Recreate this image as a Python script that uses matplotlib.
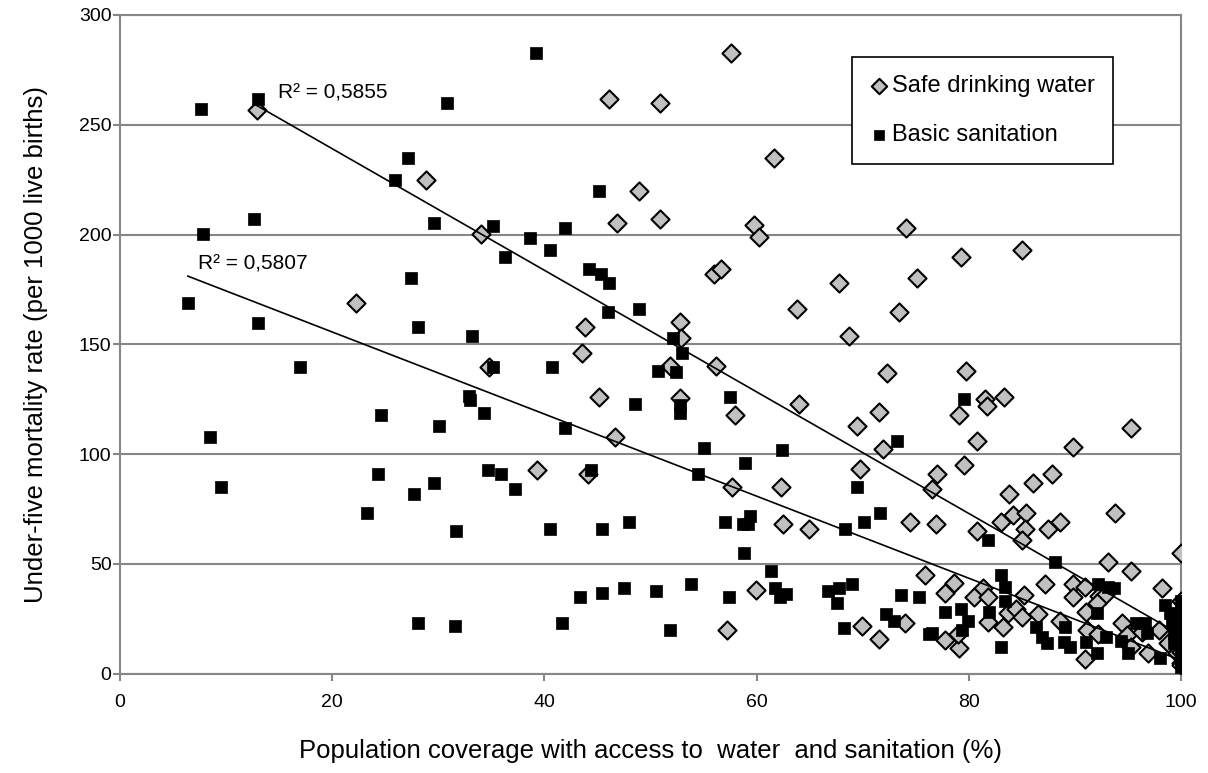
import numpy as np
import matplotlib
matplotlib.use("Agg")
import matplotlib.pyplot as plt

# safe drinking water (x = coverage %, y = under-five mortality)
water_x = [12.9, 46.1, 50.9, 28.8, 48.9, 34.0, 46.8, 50.9, 57.6, 61.6, 59.8, 60.2, 74.1,
           22.2, 43.8, 43.5, 34.8, 45.1, 46.7, 39.3, 44.1, 56.0, 56.6, 67.8, 75.1, 63.8,
           73.4, 52.8, 52.9, 68.7, 51.8, 56.2, 72.3, 52.8, 58.0, 64.0, 71.5, 69.5, 71.9,
           69.7, 79.3, 85.0, 79.7, 81.5, 81.7, 83.3, 79.1, 95.3, 80.8, 89.8, 79.5, 57.7,
           62.3, 62.5, 64.9, 74.5, 59.9, 75.9, 57.2, 69.9, 71.5, 74.0, 77.0, 87.8, 86.0,
           76.5, 83.8, 93.8, 84.2, 85.4, 83.0, 88.6, 76.9, 80.8, 85.3, 87.5, 85.0, 93.1,
           95.3, 100.0, 87.2, 89.8, 90.9, 98.2, 78.6, 77.8, 81.3, 80.5, 81.8, 85.2, 89.8,
           92.3, 92.8, 77.8, 79.1, 79.0, 81.8, 83.7, 84.4, 85.0, 83.2, 86.5, 88.6, 91.0,
           92.1, 91.1, 92.2, 90.9, 94.4, 94.9, 95.3, 96.3, 96.9, 97.9, 98.8, 99.6,
           100, 100, 100, 100, 100, 100]
water_y = [256.5, 261.7, 259.9, 225.0, 220.0, 200.2, 205.1, 206.9, 282.8, 235.0, 204.3, 199.0, 202.8,
           168.7, 158.0, 145.9, 139.8, 125.8, 107.9, 92.7, 90.9, 181.9, 184.3, 178.0, 180.0, 166.1,
           164.8, 160.0, 152.7, 153.9, 140.2, 140.1, 137.0, 125.4, 117.8, 122.8, 119.3, 112.9, 102.1,
           93.0, 189.6, 192.9, 137.9, 125.1, 122.0, 125.8, 117.8, 112.0, 105.9, 103.0, 95.0, 84.8,
           84.8, 68.0, 65.8, 68.9, 38.0, 44.9, 19.8, 21.8, 15.7, 22.9, 90.9, 90.9, 86.9,
           83.9, 81.8, 73.0, 72.2, 73.0, 69.2, 69.2, 68.1, 65.1, 65.8, 65.8, 60.8, 50.9,
           46.8, 55.0, 40.8, 40.8, 39.3, 39.1, 41.1, 36.5, 38.8, 34.7, 34.7, 35.8, 35.0,
           35.4, 35.8, 15.3, 11.8, 18.0, 23.6, 27.4, 29.4, 25.9, 21.3, 27.1, 24.1, 28.2,
           32.0, 19.8, 17.9, 6.5, 22.9, 17.5, 12.2, 19.0, 9.5, 19.8, 14.0, 9.2,
           33, 22, 15, 10, 5, 4]

# basic sanitation
sanit_x = [7.6, 13.0, 12.6, 7.8, 39.2, 30.8, 27.1, 25.9, 45.1, 29.6, 35.2, 38.6, 41.9,
           6.4, 13.0, 17.0, 24.6, 8.5, 36.3, 40.5, 27.4, 44.2, 45.3, 46.1, 46.0, 48.9,
           28.1, 33.2, 35.2, 40.7, 50.7, 48.5, 32.9, 33.0, 34.3, 30.1, 41.9, 34.7, 44.4,
           52.1, 53.0, 52.4, 52.8, 52.8, 57.5, 73.2, 55.0, 62.4, 58.9, 79.5, 9.5, 24.3,
           23.3, 35.9, 37.2, 29.6, 27.7, 31.7, 40.5, 45.4, 48.0, 43.4, 45.4, 47.5, 50.5,
           28.1, 31.6, 41.7, 54.5, 69.5, 57.0, 58.7, 59.4, 59.2, 68.3, 70.1, 71.6, 58.8,
           61.4, 53.8, 57.4, 61.7, 62.2, 62.8, 66.7, 67.8, 67.6, 69.0, 73.6, 75.3, 51.8,
           68.2, 72.2, 72.9, 76.2, 81.8, 88.1, 83.0, 83.4, 83.4, 92.2, 93.1, 93.7, 77.8,
           79.3, 79.9, 79.4, 76.5, 81.9, 83.0, 86.3, 86.9, 87.4, 89.1, 89.0, 89.5, 92.1,
           91.0, 92.9, 92.1, 94.3, 95.0, 95.8, 96.6, 96.8, 98.0, 98.5, 99.0, 99.1, 99.3,
           99.3, 100, 100, 100, 100, 100, 100, 100, 100, 100, 100]
sanit_y = [257.0, 261.6, 206.9, 200.2, 282.8, 259.9, 235.0, 225.0, 220.0, 205.1, 203.9, 198.3, 202.8,
           168.9, 159.8, 139.8, 117.8, 107.9, 189.9, 192.9, 180.0, 184.1, 181.9, 178.0, 164.8, 166.1,
           158.0, 153.9, 139.8, 139.8, 137.8, 122.8, 126.3, 124.5, 118.8, 112.9, 112.0, 92.7, 92.7,
           153.0, 146.2, 137.2, 122.3, 118.5, 125.8, 105.9, 102.9, 101.8, 95.8, 124.9, 84.8, 90.9,
           73.0, 90.9, 83.9, 86.9, 81.8, 64.9, 65.8, 65.8, 68.9, 34.7, 36.8, 38.8, 37.7,
           22.9, 21.8, 22.9, 90.9, 84.8, 68.9, 68.0, 71.9, 68.0, 65.8, 68.9, 73.0, 54.8,
           46.8, 40.8, 35.0, 38.8, 34.7, 36.1, 37.7, 38.8, 32.0, 40.8, 35.8, 35.0, 19.8,
           20.6, 27.0, 23.9, 18.0, 60.8, 50.9, 44.9, 39.3, 33.2, 40.8, 39.5, 39.1, 27.9,
           29.2, 23.9, 19.8, 18.3, 27.9, 11.9, 21.3, 16.8, 14.0, 21.3, 14.5, 11.9, 27.7,
           14.5, 16.8, 9.5, 14.8, 9.2, 22.9, 22.9, 18.3, 6.9, 31.2, 27.4, 22.9, 18.3,
           13.8, 33, 30, 25, 20, 17, 14, 10, 7, 5, 3]

# linear trend lines as shown on the chart (slope, intercept, R² label)
water_trend = (-2.77, 294.5)
sanit_trend = (-1.87, 193.0)
water_r2 = "R² = 0,5855"
sanit_r2 = "R² = 0,5807"


def main():
    plt.rcParams['font.family'] = ['Liberation Sans', 'DejaVu Sans']
    fig = plt.figure(figsize=(12.08, 7.73), dpi=100)
    ax = fig.add_axes([0.0993, 0.1287, 0.8784, 0.8519])

    ax.scatter(water_x, water_y, marker='D', s=85, c='#c0c0c0', edgecolors='black',
               linewidths=1.5, zorder=3, label='Safe drinking water')
    ax.scatter(sanit_x, sanit_y, marker='s', s=75, c='black', edgecolors='black',
               linewidths=0.5, zorder=3, label='Basic sanitation')

    xw = np.array([min(water_x), 100])
    ax.plot(xw, water_trend[0] * xw + water_trend[1], color='black', lw=1.2, zorder=4)
    xs = np.array([min(sanit_x), 100])
    ax.plot(xs, sanit_trend[0] * xs + sanit_trend[1], color='black', lw=1.2, zorder=4)

    ax.text(14.9, 264.4, water_r2, fontsize=15, va='center', ha='left', zorder=5)
    ax.text(7.35, 186.6, sanit_r2, fontsize=15, va='center', ha='left', zorder=5)

    ax.set_xlim(0, 100)
    ax.set_ylim(0, 300)
    ax.set_xticks(np.arange(0, 101, 20))
    ax.set_yticks(np.arange(0, 301, 50))
    ax.yaxis.grid(True, color='#868686', lw=1.5)
    ax.set_axisbelow(True)
    for sp in ax.spines.values():
        sp.set_color('#868686')
        sp.set_linewidth(1.5)
    ax.tick_params(axis='both', colors='#868686', labelcolor='black', labelsize=14,
                   length=5, width=1.5, direction='out')
    ax.tick_params(axis='x', pad=10)
    ax.tick_params(axis='y', pad=1)

    ax.set_xlabel("Population coverage with access to  water  and sanitation (%)",
                  fontsize=18.5, labelpad=20)
    ax.set_ylabel("Under-five mortality rate (per 1000 live births)", fontsize=18.5,
                  labelpad=22)

    leg = ax.legend(loc='upper left', bbox_to_anchor=(0.690, 0.936), fontsize=17,
                    frameon=True, fancybox=False, edgecolor='black', framealpha=1,
                    labelspacing=1.15, handletextpad=0.15, handlelength=0.8,
                    borderpad=0.75, markerscale=0.85, borderaxespad=0)
    leg.get_frame().set_linewidth(1.2)

    fig.savefig("out.png", dpi=100)


main()
